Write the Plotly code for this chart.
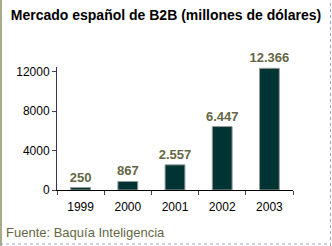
import plotly.graph_objects as go

years = ["1999", "2000", "2001", "2002", "2003"]
values = [250, 867, 2557, 6447, 12366]
labels = ["250", "867", "2.557", "6.447", "12.366"]
yticks = [0, 4000, 8000, 12000]

fig = go.Figure()
fig.add_trace(go.Bar(
    x=years, y=values, text=["<b>%s</b>" % s for s in labels], textposition="outside",
    textfont=dict(family="Arial", size=13, color="#666644"),
    constraintext="none",
    marker=dict(color="#003333", line=dict(color="#999999", width=1)),
    width=0.42, cliponaxis=False,
))
W = 236.0
H = 123.0
T = 67.0
fig.update_layout(
    width=332, height=246,
    margin=dict(l=57, r=39, t=T, b=56),
    paper_bgcolor="white", plot_bgcolor="white",
    showlegend=False,
    font=dict(family="Arial", size=12, color="black"),
    title=dict(text="<b>Mercado español de B2B (millones de dólares)</b>",
               x=0.5, xanchor="center", y=0.937, yanchor="middle",
               font=dict(family="Arial", size=14, color="black")),
    xaxis=dict(showline=True, linecolor="black", linewidth=1,
               ticks="outside", ticklen=4, tickson="boundaries",
               ticklabelstandoff=6,
               showgrid=False, range=[-0.5, 4.5]),
    yaxis=dict(showline=True, linecolor="#333366", linewidth=1,
               ticks="outside", ticklen=4, tickvals=yticks, tickformat="d",
               showgrid=False, zeroline=False, range=[0, 12500]),
    annotations=[dict(text="Fuente: Baquía Inteligencia", xref="paper", yref="paper",
                      x=-53 / W, y=-42 / H, xanchor="left", yanchor="middle",
                      showarrow=False,
                      font=dict(family="Arial", size=13, color="#666644"))],
    shapes=[
        dict(type="line", xref="paper", yref="paper", x0=-56 / W, x1=-56 / W,
             y0=-56 / H, y1=1 + T / H, line=dict(color="#aaa98a", width=2)),
        dict(type="line", xref="paper", yref="paper", x0=-57 / W, x1=1 + 38 / W,
             y0=-54 / H, y1=-54 / H, line=dict(color="#9fa7c8", width=1, dash="dot")),
        dict(type="line", xref="paper", yref="paper", x0=1 + 37.5 / W, x1=1 + 37.5 / W,
             y0=-56 / H, y1=1 + T / H, line=dict(color="#9fa7c8", width=1, dash="dot")),
    ],
)
fig.write_html("out.html")
